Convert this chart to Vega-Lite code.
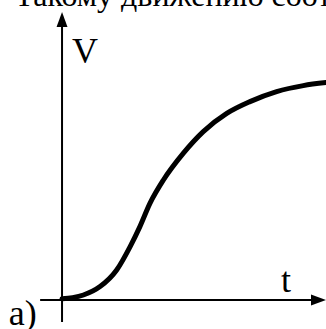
{
  "$schema": "https://vega.github.io/schema/vega-lite/v6.json",
  "width": 326,
  "height": 329,
  "autosize": "none",
  "padding": 0,
  "background": "white",
  "config": {"view": {"stroke": null}},
  "datasets": {
    "curve": [
      {"t": 0.0, "V": 0.006},
      {"t": 0.4, "V": 0.012},
      {"t": 0.81, "V": 0.025},
      {"t": 1.44, "V": 0.067},
      {"t": 2.07, "V": 0.15},
      {"t": 2.58, "V": 0.267},
      {"t": 2.95, "V": 0.367},
      {"t": 3.33, "V": 0.483},
      {"t": 3.84, "V": 0.6},
      {"t": 4.59, "V": 0.733},
      {"t": 5.35, "V": 0.842},
      {"t": 6.24, "V": 0.933},
      {"t": 7.12, "V": 0.992},
      {"t": 8.13, "V": 1.042},
      {"t": 9.14, "V": 1.072},
      {"t": 10.0, "V": 1.087}
    ],
    "axes": [
      {"t": 0, "t2": 0, "V": -0.11, "V2": 1.37},
      {"t": -0.83, "t2": 9.5, "V": 0, "V2": 0}
    ],
    "arrows": [
      {"t": 0, "V": 1.4025, "dir": "up"},
      {"t": 9.716, "V": 0, "dir": "right"}
    ],
    "labels": [
      {"t": 0.38, "V": 1.1875, "label": "V"},
      {"t": 8.295, "V": 0.0385, "label": "t"},
      {"t": -2.02, "V": -0.1225, "label": "а)"}
    ],
    "caption": [
      {"t": -1.8, "V": 1.47, "label": "Такому движению соот"}
    ]
  },
  "layer": [
    {
      "data": {"name": "axes"},
      "mark": {"type": "rule", "color": "black", "strokeWidth": 2},
      "encoding": {
        "x": {"field": "t", "type": "quantitative", "scale": {"domain": [-2.35, 10], "nice": false, "zero": false}, "axis": null},
        "x2": {"field": "t2"},
        "y": {"field": "V", "type": "quantitative", "scale": {"domain": [-0.145, 1.5], "nice": false, "zero": false}, "axis": null},
        "y2": {"field": "V2"}
      }
    },
    {
      "data": {"name": "arrows"},
      "mark": {"type": "point", "filled": true, "color": "black", "opacity": 1, "size": 225},
      "encoding": {
        "x": {"field": "t", "type": "quantitative"},
        "y": {"field": "V", "type": "quantitative"},
        "shape": {
          "field": "dir",
          "type": "nominal",
          "scale": {"domain": ["up", "right"], "range": ["M0,-1L-0.73,1L0.73,1Z", "M1,0L-1,-0.73L-1,0.73Z"]},
          "legend": null
        }
      }
    },
    {
      "data": {"name": "curve"},
      "mark": {"type": "line", "color": "black", "strokeWidth": 5, "interpolate": "monotone", "strokeCap": "round"},
      "encoding": {
        "x": {"field": "t", "type": "quantitative"},
        "y": {"field": "V", "type": "quantitative"}
      }
    },
    {
      "data": {"name": "labels"},
      "mark": {"type": "text", "font": "Liberation Serif", "fontSize": 36, "color": "black", "align": "left", "baseline": "alphabetic"},
      "encoding": {
        "x": {"field": "t", "type": "quantitative"},
        "y": {"field": "V", "type": "quantitative"},
        "text": {"field": "label"}
      }
    },
    {
      "data": {"name": "caption"},
      "mark": {"type": "text", "font": "Liberation Serif", "fontSize": 32, "color": "black", "align": "left", "baseline": "alphabetic"},
      "encoding": {
        "x": {"field": "t", "type": "quantitative"},
        "y": {"field": "V", "type": "quantitative"},
        "text": {"field": "label"}
      }
    }
  ]
}
